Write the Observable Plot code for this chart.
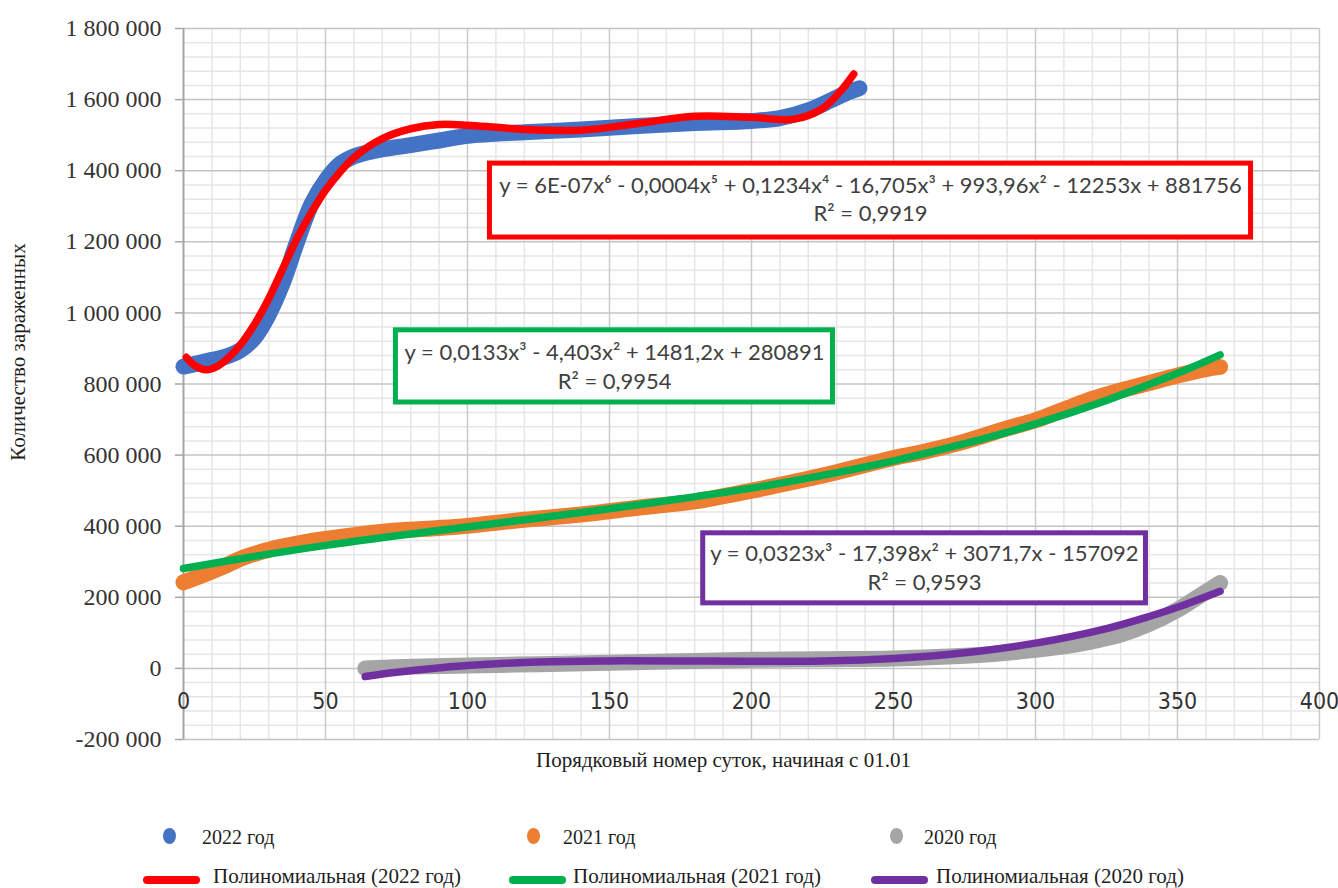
<!DOCTYPE html>
<html><head><meta charset="utf-8">
<script src="https://cdn.jsdelivr.net/npm/d3@7"></script>
<script src="https://cdn.jsdelivr.net/npm/@observablehq/plot@0.6"></script>
<style>
body{margin:0;background:#fff;}
#wrap{position:relative;width:1338px;height:888px;overflow:hidden;background:#fff;}
.lt{position:absolute;font-family:"Liberation Serif",serif;font-size:20px;line-height:20px;color:#1e1e1e;white-space:nowrap;}
.lt2{font-size:21px;line-height:21px;}
.ld{position:absolute;width:13px;height:16px;border-radius:50%;}
.ls{position:absolute;width:57px;height:8px;border-radius:4px;}
svg [aria-label^="y-axis"] text{font-family:"Liberation Serif",serif;font-size:24px;fill:#333;}
svg [aria-label^="y-axis"] path, svg [aria-label^="y-axis"] line{stroke:#a6a6a6;stroke-width:1.5px;}
</style></head>
<body><div id="wrap"><div id="chart"></div></div>
<script>
// ---- data ----
// 2022 (scatter, blue)
const days2022  = [0, 5, 10, 15, 20, 25, 30, 35, 40, 45, 50, 55, 60, 65, 70, 80, 90, 100, 120, 140, 160, 180, 200, 210, 220, 228, 234, 238];
const cases2022 = [849000, 858000, 868000, 877000, 895000, 930000, 995000, 1085000, 1200000, 1305000, 1372000, 1418000, 1440000, 1452000, 1460000, 1472000, 1485000, 1498000, 1508000, 1516000, 1526000, 1534000, 1540000, 1548000, 1570000, 1598000, 1620000, 1632000];
// 2022 polynomial trend (red)
const trendDays2022 = [1, 4, 8, 12, 16, 20, 25, 30, 35, 40, 45, 50, 55, 60, 70, 80, 90, 100, 110, 120, 140, 160, 180, 200, 215, 225, 232, 236];
const trend2022     = [875000, 852000, 840000, 850000, 875000, 910000, 968000, 1040000, 1125000, 1210000, 1282000, 1345000, 1395000, 1437000, 1490000, 1518000, 1530000, 1528000, 1522000, 1516000, 1514000, 1533000, 1553000, 1550000, 1545000, 1575000, 1630000, 1672000];
// 2021 (scatter, orange)
const days2021  = [0, 5, 10, 15, 20, 25, 30, 40, 50, 60, 75, 90, 100, 120, 140, 160, 180, 200, 215, 230, 250, 260, 275, 290, 300, 310, 320, 330, 340, 350, 360, 365];
const cases2021 = [242000, 257000, 273000, 290000, 308000, 322000, 334000, 351000, 364000, 375000, 388000, 395000, 401000, 418000, 433000, 452000, 470000, 500000, 525000, 552000, 592000, 608000, 638000, 675000, 698000, 728000, 758000, 782000, 803000, 824000, 842000, 848000];
// 2021 polynomial trend (green)
const trendDays2021 = [0, 25, 50, 75, 100, 125, 150, 175, 200, 225, 250, 275, 300, 325, 350, 365];
const trend2021     = [281000, 315000, 346000, 373000, 398000, 423000, 449000, 477000, 507000, 543000, 584000, 632000, 688000, 754000, 830000, 882000];
// 2020 (scatter, gray)
const days2020  = [64, 70, 80, 100, 125, 150, 175, 200, 225, 250, 265, 280, 290, 300, 310, 320, 330, 340, 350, 358, 365];
const cases2020 = [0, 2000, 5000, 8000, 12000, 16000, 20000, 24000, 26000, 28000, 32000, 38000, 44000, 52000, 62000, 76000, 95000, 125000, 165000, 205000, 240000];
// 2020 polynomial trend (purple)
const trendDays2020 = [64, 75, 100, 125, 150, 175, 200, 225, 250, 275, 300, 325, 340, 350, 365];
const trend2020     = [-23000, -11000, 8000, 18000, 21000, 21000, 20000, 21000, 28000, 44000, 71000, 112000, 146000, 172000, 217000];

// tick labels
const xTickLabels = [0, 50, 100, 150, 200, 250, 300, 350, 400];
const yTickLabels = [-200000, 0, 200000, 400000, 600000, 800000, 1000000, 1200000, 1400000, 1600000, 1800000];

// texts
const yTitle = "Количество зараженных";
const xTitle = "Порядковый номер суток, начиная с 01.01";
const eqText = [
  "y = 6E-07x⁶ - 0,0004x⁵ + 0,1234x⁴ - 16,705x³ + 993,96x² - 12253x + 881756", "R² = 0,9919",
  "y = 0,0133x³ - 4,403x² + 1481,2x + 280891", "R² = 0,9954",
  "y = 0,0323x³ - 17,398x² + 3071,7x - 157092", "R² = 0,9593"
];
// annotation anchors (data units)
const eqBoxes = [
  {x1: 107.9, x2: 375.9, y1: 1212000, y2: 1420000, c: "#ff0000"},
  {x1: 74.8,  x2: 228.7, y1: 748000,  y2: 951000,  c: "#00b050"},
  {x1: 183.0, x2: 338.9, y1: 183000,  y2: 380000,  c: "#7030a0"}
];
const eqAnchors = [
  {x: 241.9, y: 1358000}, {x: 241.9, y: 1278000},
  {x: 151.8, y: 886000},  {x: 151.8, y: 807000},
  {x: 260.9, y: 322000},  {x: 260.9, y: 240000}
];

const seriesNames = ["2022 год", "2021 год", "2020 год"];
const trendNames = ["Полиномиальная (2022 год)", "Полиномиальная (2021 год)", "Полиномиальная (2020 год)"];
const colors = {s2022: "#4472c4", s2021: "#ed7d31", s2020: "#a5a5a5", t2022: "#ff0000", t2021: "#00b050", t2020: "#7030a0"};

const tbl = (ds, vs) => ds.map((d, i) => ({day: d, v: vs[i]}));
const d22 = tbl(days2022, cases2022), t22 = tbl(trendDays2022, trend2022);
const d21 = tbl(days2021, cases2021), t21 = tbl(trendDays2021, trend2021);
const d20 = tbl(days2020, cases2020), t20 = tbl(trendDays2020, trend2020);
const eqRows = eqText.map((t, i) => ({...eqAnchors[i], text: t}));

const minorX = d3.range(10, 400, 10).filter(d => d % 50 !== 0);
const majorX = xTickLabels.filter(d => d !== 0);
const minorY = d3.range(-200000, 1800001, 40000).filter(d => d % 200000 !== 0);
const fmtY = d => d3.format(",")(d).replace(/,/g, " ").replace("−", "-");

const band = (data, c) => Plot.line(data, {x: "day", y: "v", stroke: c, strokeWidth: 16, strokeLinecap: "round", strokeLinejoin: "round", curve: "catmull-rom"});
const trend = (data, c) => Plot.line(data, {x: "day", y: "v", stroke: c, strokeWidth: 7.5, strokeLinecap: "round", strokeLinejoin: "round", curve: "catmull-rom"});

const chart = Plot.plot({
  width: 1338, height: 790,
  marginLeft: 183, marginRight: 19, marginTop: 28, marginBottom: 51,
  style: {background: "white", fontFamily: "Liberation Serif, serif", fontSize: "24px", color: "#333"},
  x: {domain: [0, 400], axis: null},
  y: {domain: [-200000, 1800000], ticks: yTickLabels, tickFormat: fmtY, tickSize: 8, tickPadding: 14, label: null},
  marks: [
    Plot.ruleX(minorX, {stroke: "#e6e6e6", strokeWidth: 1.5}),
    Plot.ruleY(minorY, {stroke: "#e6e6e6", strokeWidth: 1.5}),
    Plot.ruleX(majorX, {stroke: "#cacaca", strokeWidth: 1.5}),
    Plot.ruleY(yTickLabels, {stroke: "#c4c4c4", strokeWidth: 1.5}),
    Plot.ruleX([0], {stroke: "#a6a6a6", strokeWidth: 2}),
    Plot.text(xTickLabels, {x: d => d, y: 0, dy: 33, text: d => String(d), fontFamily: "Liberation Sans Narrow, DejaVu Sans Condensed, sans-serif", fontSize: 23, fill: "#333"}),
    band(d22, colors.s2022), trend(t22, colors.t2022),
    band(d21, colors.s2021), trend(t21, colors.t2021),
    band(d20, colors.s2020), trend(t20, colors.t2020),
    Plot.rect(eqBoxes, {x1: "x1", x2: "x2", y1: "y1", y2: "y2", fill: "white", stroke: "c", strokeWidth: 5}),
    Plot.text(eqRows, {x: "x", y: "y", text: "text", fontFamily: "Lato, sans-serif", fontSize: 22, fill: "#404040"}),
    Plot.text([yTitle], {frameAnchor: "left", textAnchor: "middle", lineAnchor: "middle", text: d => d, rotate: -90, dx: -165, dy: -32, fontSize: 21, fill: "#1e1e1e"}),
    Plot.text([xTitle], {frameAnchor: "bottom", textAnchor: "middle", lineAnchor: "middle", text: d => d, dx: -28, dy: 21, fontSize: 21, fill: "#1e1e1e"})
  ]
});
const wrap = document.getElementById("wrap");
document.getElementById("chart").appendChild(chart);

// legend (below the SVG)
const legRow1 = [{c: colors.s2022, dot: 169, tx: 202}, {c: colors.s2021, dot: 533, tx: 563}, {c: colors.s2020, dot: 896, tx: 924}];
const legRow2 = [{c: colors.t2022, l: 143, tx: 213}, {c: colors.t2021, l: 509, tx: 573}, {c: colors.t2020, l: 871, tx: 936}];
legRow1.forEach((r, i) => {
  const d = document.createElement("div"); d.className = "ld";
  d.style.cssText = `left:${r.dot - 6.5}px;top:${836 - 8}px;background:${r.c}`; wrap.appendChild(d);
  const t = document.createElement("div"); t.className = "lt"; t.textContent = seriesNames[i];
  t.style.cssText = `left:${r.tx}px;top:${827}px`; wrap.appendChild(t);
});
legRow2.forEach((r, i) => {
  const d = document.createElement("div"); d.className = "ls";
  d.style.cssText = `left:${r.l}px;top:${876}px;background:${r.c}`; wrap.appendChild(d);
  const t = document.createElement("div"); t.className = "lt lt2"; t.textContent = trendNames[i];
  t.style.cssText = `left:${r.tx}px;top:${866}px`; wrap.appendChild(t);
});
</script></body></html>
